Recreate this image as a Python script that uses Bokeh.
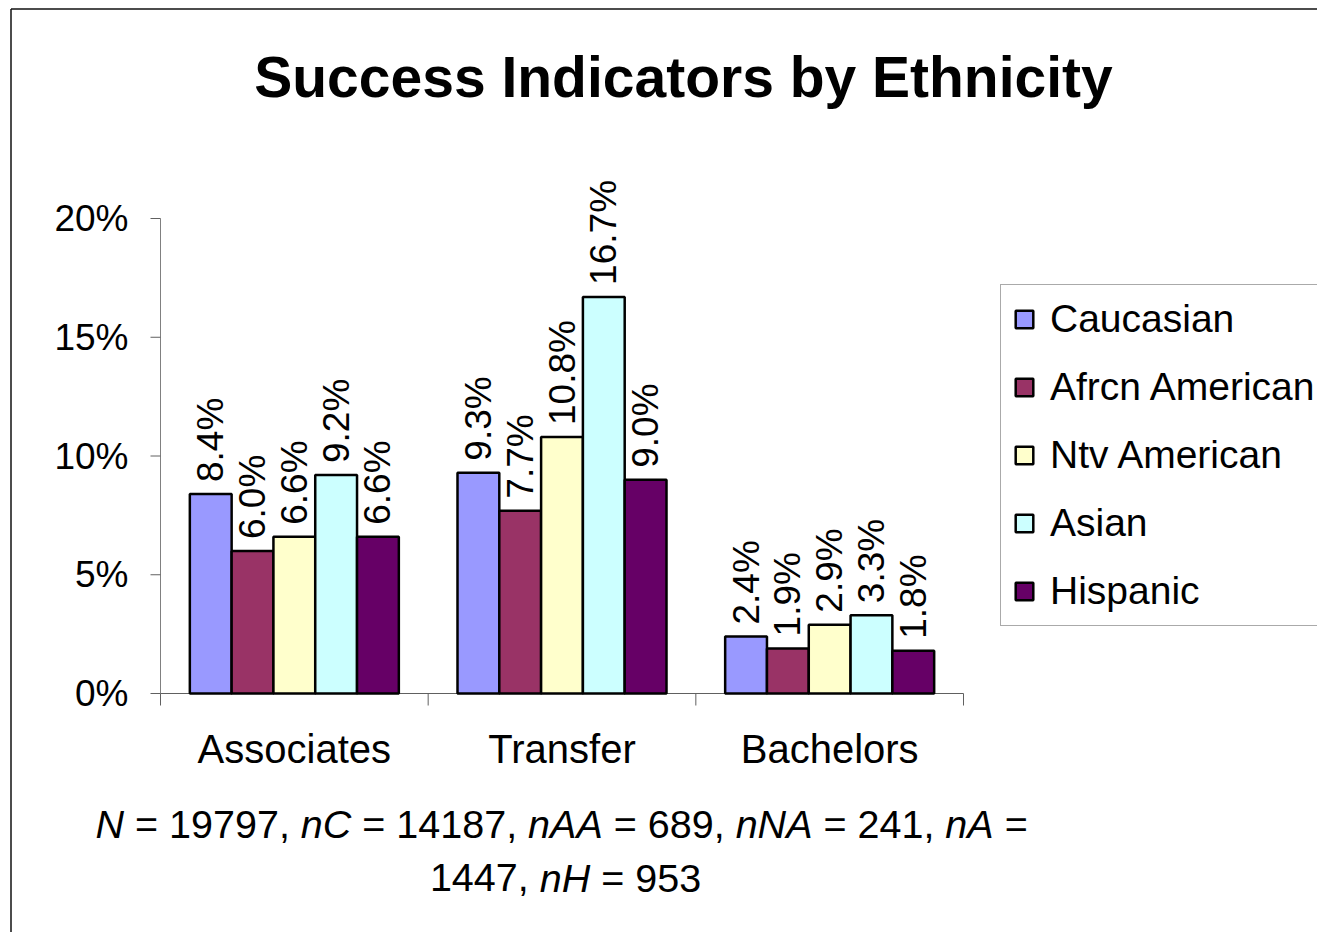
import math
from bokeh.plotting import figure
from bokeh.models import Range1d, Legend, LegendItem, Label
from bokeh.embed import file_html
from bokeh.resources import INLINE
from bokeh.core.properties import value

# ---------------- data ----------------
categories = ["Associates", "Transfer", "Bachelors"]
series_names = ["Caucasian", "Afrcn American", "Ntv American", "Asian", "Hispanic"]
caucasian = [0.084, 0.093, 0.024]
afrcn_american = [0.060, 0.077, 0.019]
ntv_american = [0.066, 0.108, 0.029]
asian = [0.092, 0.167, 0.033]
hispanic = [0.066, 0.090, 0.018]
series_values = [caucasian, afrcn_american, ntv_american, asian, hispanic]
y_ticks = [0.0, 0.05, 0.10, 0.15, 0.20]
y_tick_labels = ["0%", "5%", "10%", "15%", "20%"]
title_text = "Success Indicators by Ethnicity"
footnote_line1 = [("N", "italic"), (" = 19797, ", "normal"), ("nC", "italic"), (" = 14187, ", "normal"),
                  ("nAA", "italic"), (" = 689, ", "normal"), ("nNA", "italic"), (" = 241, ", "normal"),
                  ("nA", "italic"), (" =", "normal")]
footnote_line2 = [("1447, ", "normal"), ("nH", "italic"), (" = 953", "normal")]

# ---------------- layout / styles ----------------
colors = ["#9999FF", "#993366", "#FFFFCC", "#CCFFFF", "#660066"]
FONT = "Liberation Sans"
W, H = 1317, 932
AX_X0 = 160                  # x of the value axis (px)
AX_Y0 = 693                  # y of the category axis (px)
PX_X = (963 - 160) / 3.0     # px per category
PX_Y = (693 - 218) / 0.20    # px per unit of y


def dx(rx):
    return (rx - AX_X0) / PX_X


def dy(ry):
    return (AX_Y0 - ry) / PX_Y


p = figure(width=W, height=H, output_backend="svg", toolbar_location=None, title=None,
           x_range=Range1d(dx(0), dx(W)), y_range=Range1d(dy(H), dy(0)),
           x_axis_type=None, y_axis_type=None,
           min_border_left=0, min_border_right=0, min_border_top=0, min_border_bottom=0)
p.outline_line_color = None
p.background_fill_color = "white"
p.border_fill_color = "white"

# chart-area border (top and left edges of the original chart image)
p.segment(x0=[dx(10.5), dx(10.5)], y0=[dy(8.5), dy(8.5)], x1=[dx(10.5), dx(W + 20)],
          y1=[dy(H + 20), dy(8.5)], line_color="#111111", line_width=1.5)

# value axis
ntick = len(y_ticks)
p.segment(x0=[0], y0=[y_ticks[0]], x1=[0], y1=[y_ticks[-1]], line_color="#808080", line_width=1)
p.segment(x0=[0] * ntick, y0=y_ticks, x1=[-10 / PX_X] * ntick, y1=y_ticks,
          line_color="#606060", line_width=1)
p.text(x=[0] * ntick, y=y_ticks, text=y_tick_labels, x_offset=-32, text_align="right",
       text_baseline="middle", text_font=value(FONT), text_font_size="37px", text_color="black")

# category axis
ncat = len(categories)
cat_centers = [i + 0.5 for i in range(ncat)]
bounds = list(range(ncat + 1))
p.segment(x0=[bounds[0]], y0=[0], x1=[bounds[-1]], y1=[0], line_color="#606060", line_width=1)
p.segment(x0=bounds, y0=[0] * len(bounds), x1=bounds, y1=[-12 / PX_Y] * len(bounds),
          line_color="#606060", line_width=1)
p.text(x=cat_centers, y=[0] * ncat, text=categories, y_offset=55, text_align="center",
       text_baseline="middle", text_font=value(FONT), text_font_size="40px", text_color="black")

# bars
bw = (209.0 / 5) / PX_X
renderers = []
for i, (name, vals, col) in enumerate(zip(series_names, series_values, colors)):
    xs = [c + (i - 2) * bw for c in cat_centers]
    r = p.vbar(x=xs, top=vals, bottom=0, width=bw, fill_color=col, line_color="black", line_width=2.5)
    renderers.append(r)
    p.text(x=xs, y=vals, text=[f"{v * 100:.1f}%" for v in vals], angle=math.pi / 2,
           text_align="left", text_baseline="middle", y_offset=-12,
           text_font=value(FONT), text_font_size="37px", text_color="black")

# legend
legend = Legend(items=[LegendItem(label=n, renderers=[r]) for n, r in zip(series_names, renderers)],
                location=(1000, H - 626), orientation="vertical")
legend.border_line_color = "#555555"
legend.border_line_width = 1
legend.background_fill_color = "white"
legend.background_fill_alpha = 1
legend.padding = 12
legend.margin = 0
legend.spacing = 24
legend.glyph_width = 22
legend.glyph_height = 22
legend.label_height = 44
legend.label_width = 320
legend.label_standoff = 15
legend.label_text_font = FONT
legend.label_text_font_size = "39px"
legend.label_text_color = "black"
p.add_layout(legend)

# title
p.add_layout(Label(x=dx(683), y=dy(76), text=title_text,
                   text_align="center", text_baseline="middle", text_font=FONT,
                   text_font_size="57px", text_font_style="bold", text_color="black"))

# footnote (mixed italic); segment widths from Arial metrics
AW = {" ": 278, ",": 278, "=": 584, "N": 722, "n": 556, "C": 722, "A": 667, "H": 722}
for d in "0123456789":
    AW[d] = 556
FN_SIZE = 39.5


def place_line(segments, x_start, y_px):
    widths = [sum(AW[c] for c in s) * FN_SIZE / 1000.0 for s, _ in segments]
    x = x_start
    for (s, style), w in zip(segments, widths):
        lead = (len(s) - len(s.lstrip(" "))) * AW[" "] * FN_SIZE / 1000.0
        p.add_layout(Label(x=dx(x + lead), y=dy(y_px), text=s.strip(" "),
                           text_align="left", text_baseline="middle", text_font=FONT,
                           text_font_size=f"{FN_SIZE}px", text_font_style=style, text_color="black"))
        x += w
    return widths


w2 = [sum(AW[c] for c in s) * FN_SIZE / 1000.0 for s, _ in footnote_line2]
place_line(footnote_line1, 95, 823)
place_line(footnote_line2, 565 - sum(w2) / 2.0, 877)

open("out.html", "w").write(file_html(p, INLINE))
